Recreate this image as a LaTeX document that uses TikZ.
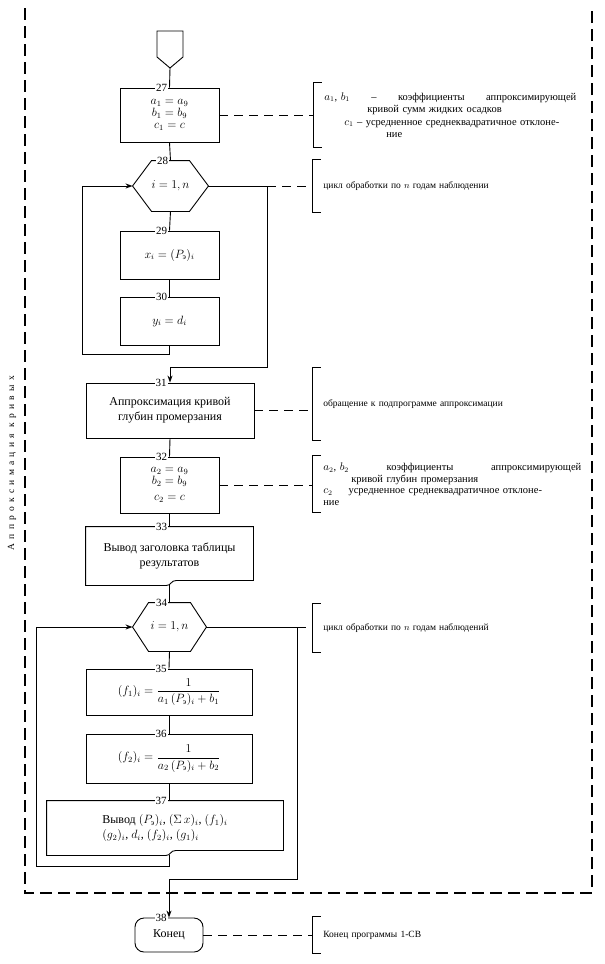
\documentclass[tikz,border=0pt]{standalone}
\usepackage{amsmath}
\usepackage{fontspec}
\setmainfont{Liberation Serif}
\newfontfamily\sidefont[LetterSpace=45]{Liberation Serif}
\usetikzlibrary{arrows.meta, positioning}

\newcommand{\hexa}[2]{\draw (#1.west) -- ([xshift=#2]#1.north west) -- ([xshift=-#2]#1.north east) -- (#1.east) -- ([xshift=-#2]#1.south east) -- ([xshift=#2]#1.south west) -- cycle;}
\newcommand{\brak}[1]{\draw (#1.north east) -- (#1.north west) -- (#1.south west) -- (#1.south east);}
\newcommand{\Pe}{(P_{\textrm{э}})}

\begin{document}
\begin{tikzpicture}[x=1pt, y=-1pt, line width=0.9pt,
    box/.style={draw, align=center, inner sep=2pt, font=\fontsize{12}{15}\selectfont},
    shell/.style={draw=none, align=center, inner sep=2pt, font=\fontsize{12}{15}\selectfont},
    num/.style={fill=white, anchor=east, inner sep=1pt, font=\fontsize{11}{12}\selectfont},
    brk/.style={draw=none, anchor=west, minimum width=8pt, minimum height=#1, inner sep=0pt},
    note/.style={right=2pt of #1, inner sep=0pt, text width=252pt, align=left, font=\fontsize{10.5}{12.5}\selectfont},
    link/.style={dash pattern=on 9pt off 6pt},
    flow/.style={-{Stealth[length=7pt, width=5pt]}},
    frame/.style={line width=1.3pt, dash pattern=on 12pt off 6pt}]

    \useasboundingbox (0,0) rectangle (605,964);

    % frame of the block
    \draw[frame] (25,8) -- (25,893) -- (592,893) -- (592,8);
    \node[rotate=90, font=\sidefont\fontsize{9.5}{11}\selectfont] (side) at (12,463) {Аппроксимация кривых};

    % entry connector
    \coordinate (st) at (170,68);
    \draw (157,31) -- (183,31) -- (183,57) -- (st) -- (157,57) -- cycle;

    \node[box, minimum width=99pt, minimum height=54pt] (b27) at (169.5,115) {$a_1 = a_9$\\[-3pt]$b_1 = b_9$\\[-3pt]$c_1 = c$};
    \node[shell, minimum width=75pt, minimum height=50pt] (h28) at (170.5,186) {$i = 1, n$};
    \hexa{h28}{19pt}
    \node[box, minimum width=99pt, minimum height=48pt] (b29) at (169.5,255) {$x_i = \Pe_i$};
    \node[box, minimum width=99pt, minimum height=48pt] (b30) at (169.5,321) {$y_i = d_i$};
    \node[box, minimum width=168pt, minimum height=55pt] (b31) at (170,410.5) {Аппроксимация кривой\\глубин промерзания};
    \node[box, minimum width=99pt, minimum height=56pt] (b32) at (169.5,485) {$a_2 = a_9$\\[-3pt]$b_2 = b_9$\\[1pt]$c_2 = c$};
    \node[shell, minimum width=167pt, minimum height=58pt] (b33) at (169.5,556) {Вывод заголовка таблицы\\результатов};
    \node[shell, minimum width=73pt, minimum height=48pt] (h34) at (169.5,627) {$i = 1, n$};
    \hexa{h34}{16pt}
    \node[box, minimum width=166pt, minimum height=46pt] (b35) at (169,692) {$(f_1)_i = \dfrac{1}{a_1\,\Pe_i + b_1}$};
    \node[box, minimum width=166pt, minimum height=49pt] (b36) at (169,758.5) {$(f_2)_i = \dfrac{1}{a_2\,\Pe_i + b_2}$};
    \node[shell, minimum width=236pt, minimum height=54pt, align=left] (b37) at (165,828) {Вывод $\Pe_i$, $(\Sigma\,x)_i$, $(f_1)_i$\\$(g_2)_i$, $d_i$, $(f_2)_i$, $(g_1)_i$};
    \node[box, rounded corners=9pt, minimum width=68pt, minimum height=34pt] (t38) at (169,935) {Конец};

    % output symbols
    \coordinate (s33) at (b33.south);
    \draw ([yshift=5pt]b33.south east) -- (b33.north east) -- (b33.north west) -- (b33.south west) -- ([xshift=-3pt]s33) .. controls ([xshift=2pt]s33) and ([xshift=1pt,yshift=5pt]s33) .. ([xshift=7pt,yshift=5pt]s33) -- cycle;
    \coordinate (s37) at (b36.south |- b37.south);
    \draw ([yshift=5pt]b37.south east) -- (b37.north east) -- (b37.north west) -- (b37.south west) -- ([xshift=-3pt]s37) .. controls ([xshift=2pt]s37) and ([xshift=1pt,yshift=5pt]s37) .. ([xshift=7pt,yshift=5pt]s37) -- cycle;

    % numbers
    \node[num] (n27) at ([xshift=-1pt]b27.north) {27};
    \node[num] (n28) at ([xshift=-1pt]h28.north) {28};
    \node[num] (n29) at ([xshift=-1pt]b29.north) {29};
    \node[num] (n30) at ([xshift=-1pt]b30.north) {30};
    \node[num] (n31) at ([xshift=-2pt]b31.north) {31};
    \node[num] (n32) at ([xshift=-1pt]b32.north) {32};
    \node[num] (n33) at ([xshift=-1pt]b33.north) {33};
    \node[num] (n34) at ([xshift=-1pt]h34.north) {34};
    \node[num] (n35) at ([xshift=-1pt]b35.north) {35};
    \node[num] (n36) at ([xshift=-1pt]b36.north) {36};
    \node[num] (n37) at ([xshift=-1pt]b36.south |- b37.north) {37};
    \node[num] (n38) at ([xshift=-1pt]t38.north) {38};

    % flow lines
    \draw (st) -- (b27.north);
    \draw (b27.south) -- (h28.north);
    \draw (h28.south) -- (b29.north);
    \draw (b29.south) -- (b30.north);
    \coordinate (l28) at (82,354);
    \draw[flow] (b30.south) |- (l28) |- (h28.west);
    \coordinate (e28) at (267,186);
    \coordinate (f28) at (267,367);
    \coordinate (g28) at (170,367);
    \draw[flow] (h28.east) -- (e28) -- (f28) -- (g28) -- (b31.north);
    \draw (b31.south) -- (b32.north);
    \draw (b32.south) -- (b33.north);
    \draw (s33) -- (h34.north);
    \draw (h34.south) -- (b35.north);
    \draw (b35.south) -- (b36.north);
    \draw (b36.south) -- (b36.south |- b37.north);
    \coordinate (l34) at (36,866);
    \draw[flow] (s37) |- (l34) |- (h34.west);
    \coordinate (e34) at (297,627);
    \coordinate (f34) at (297,879);
    \coordinate (g34) at (169,879);
    \draw[flow] (h34.east) -- (e34) -- (f34) -- (g34) -- (t38.north);

    % comments
    \node[brk=64pt] (k27) at (313,115) {};
    \brak{k27}
    \node[note=k27] (t27) {$a_1$, $b_1$\hspace{\fill}--\hspace{\fill}коэффициенты\hspace{\fill}аппроксимирующей\\
        \hspace*{43pt}кривой сумм жидких осадков\\
        \hspace*{20pt}$c_1$ -- усредненное среднеквадратичное отклоне-\\
        \hspace*{62pt}ние};
    \draw[link] (b27.east) -- (k27.west);

    \node[brk=52pt] (k28) at (312,186) {};
    \brak{k28}
    \node[note=k28, font=\fontsize{9.5}{11}\selectfont] (t28) {цикл обработки по $n$ годам наблюдении};
    \draw[link] (e28) -- (k28.west);

    \node[brk=72pt] (k31) at (312,404) {};
    \brak{k31}
    \node[note=k31, font=\fontsize{9.5}{11}\selectfont] (t31) {обращение к подпрограмме аппроксимации};
    \draw[link] (b31.east) -- (b31.east -| k31.west);

    \node[brk=56pt] (k32) at (312,484) {};
    \brak{k32}
    \node[note=k32, text width=258pt, font=\fontsize{10.5}{11.5}\selectfont] (t32) {$a_2$, $b_2$\hspace{\fill}коэффициенты\hspace{\fill}аппроксимирующей\\
        \hspace*{28pt}кривой глубин промерзания\\
        $c_2$\hspace{16pt}усредненное среднеквадратичное отклоне-\\
        ние};
    \draw[link] (b32.east) -- (b32.east -| k32.west);

    \node[brk=48pt] (k34) at (312,628) {};
    \brak{k34}
    \node[note=k34, font=\fontsize{9.5}{11}\selectfont] (t34) {цикл обработки по $n$ годам наблюдений};
    \draw[link] (e34) -- (e34 -| k34.west);

    \node[brk=36pt] (k38) at (312,935) {};
    \brak{k38}
    \node[note=k38, font=\fontsize{9.5}{11}\selectfont] (t38n) {Конец программы 1-СВ};
    \draw[link] (t38.east) -- (k38.west);
\end{tikzpicture}
\end{document}
